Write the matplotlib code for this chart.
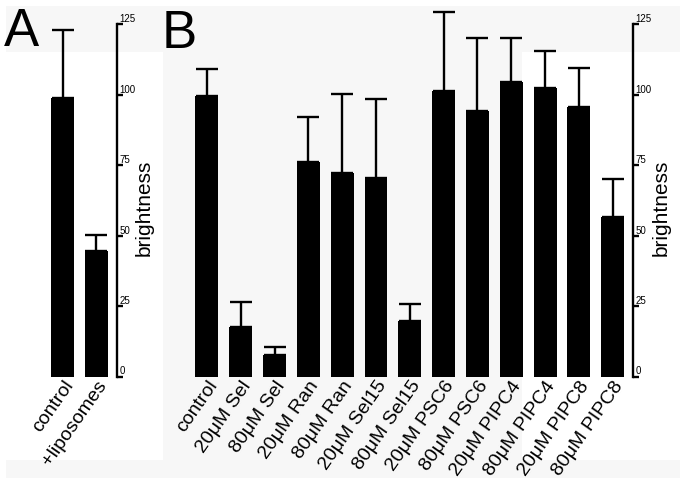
import matplotlib
matplotlib.use("Agg")
import matplotlib.pyplot as plt
from matplotlib.patches import Rectangle

plt.rcParams['font.family'] = ['Liberation Sans', 'DejaVu Sans']

# data
a_labels = ['control', '+liposomes']
a_values = [98.8, 44.5]
a_upper = [122.9, 50.2]

b_labels = ['control', '20μM Sel', '80μM Sel', '20μM Ran', '80μM Ran',
            '20μM Sel15', '80μM Sel15', '20μM PSC6', '80μM PSC6',
            '20μM PIPC4', '80μM PIPC4', '20μM PIPC8', '80μM PIPC8']
b_values = [99.5, 17.7, 7.5, 76.2, 72.3, 70.5, 19.6, 101.3, 94.3,
            104.3, 102.2, 95.7, 56.4]
b_upper = [109.0, 26.5, 10.4, 91.9, 100.2, 98.4, 25.7, 129.3, 120.1,
           120.1, 115.5, 109.5, 70.0]

y_ticks = [0, 25, 50, 75, 100, 125]

W, H = 685, 484
fig = plt.figure(figsize=(W / 100, H / 100), dpi=100)
fig.patch.set_facecolor('white')

# light grey page background with white patches (scan look)
def px_rect(x0, y0, x1, y1, color):
    fig.patches.append(Rectangle((x0 / W, 1 - y1 / H), (x1 - x0) / W, (y1 - y0) / H,
                                 transform=fig.transFigure, facecolor=color,
                                 edgecolor='none', zorder=-10))

px_rect(6, 6, 680, 478, '#f7f7f7')
px_rect(0, 52, 163, 460, 'white')
px_rect(522, 52, 680, 460, 'white')


def panel(rect, labels, values, upper, xlim, label_x):
    ax = fig.add_axes(rect)
    ax.patch.set_alpha(0)
    x = range(len(values))
    err = [[0] * len(values), [u - v for u, v in zip(upper, values)]]
    ax.bar(x, values, width=0.68, color='black')
    ax.errorbar(x, values, yerr=err, fmt='none', ecolor='black',
                elinewidth=1.7, capsize=8, capthick=1.7, clip_on=False)
    ax.set_xlim(*xlim)
    ax.set_ylim(0, 133)
    for s in ['left', 'top', 'bottom']:
        ax.spines[s].set_visible(False)
    ax.spines['right'].set_linewidth(1.7)
    ax.spines['right'].set_bounds(0, 125)
    ax.yaxis.tick_right()
    ax.set_yticks(y_ticks)
    ax.set_yticklabels([str(t) for t in y_ticks])
    ax.tick_params(axis='y', direction='out', length=4, width=1.7, pad=-2,
                   labelsize=7)
    for lbl in ax.get_yticklabels():
        lbl.set_verticalalignment('bottom')
    ax.set_xticks(list(x))
    ax.set_xticklabels(labels, rotation=55, ha='right', va='top',
                       rotation_mode='anchor', fontsize=14)
    ax.tick_params(axis='x', length=0, pad=1)
    ax.text(label_x, 0.45, 'brightness', transform=ax.transAxes, rotation=90,
            ha='center', va='center', fontsize=15)
    return ax


ax_a = panel([42 / W, 107.5 / H, 75 / W, 375 / H], a_labels, a_values, a_upper,
             (-0.62, 1.62), 1.36)
ax_b = panel([186.7 / W, 107.5 / H, 446.2 / W, 375 / H], b_labels, b_values,
             b_upper, (-0.6, 12.6), 1.063)

fig.text(4 / W, 1 - 46.5 / H, 'A', fontsize=38, va='baseline', ha='left')
fig.text(162 / W, 1 - 47.5 / H, 'B', fontsize=38, va='baseline', ha='left')

fig.savefig('out.png', dpi=100)
